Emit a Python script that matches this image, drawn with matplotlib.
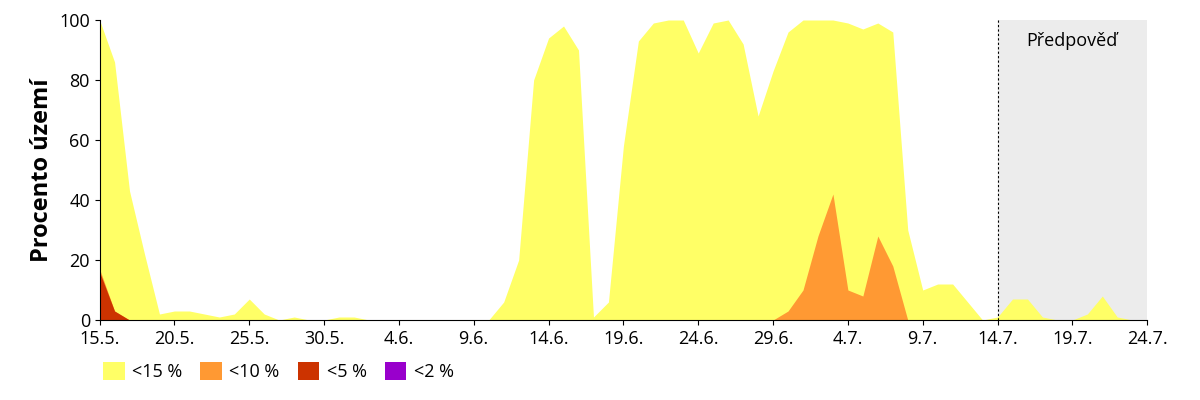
import numpy as np
import matplotlib.pyplot as plt

# denní hodnoty od 15.5. (index 0) do 24.7. (index 70)
yellow = [100, 86, 43, 22, 2, 3, 3, 2, 1, 2, 7, 2, 0, 1, 0, 0, 1, 1, 0, 0,
          0, 0, 0, 0, 0, 0, 0, 6, 20, 80, 94, 98, 90, 1, 6, 58, 93, 99, 100, 100,
          89, 99, 100, 92, 68, 83, 96, 100, 100, 100, 99, 97, 99, 96, 30, 10, 12, 12, 6, 0,
          1, 7, 7, 1, 0, 0, 2, 8, 1, 0, 0]
orange = [17, 3] + [0] * 44 + [3, 10, 28, 42, 10, 8, 28, 18] + [0] * 17
red = [16, 3] + [0] * 69
purple = [0] * 71
tick_labels = ['15.5.', '20.5.', '25.5.', '30.5.', '4.6.', '9.6.', '14.6.', '19.6.',
               '24.6.', '29.6.', '4.7.', '9.7.', '14.7.', '19.7.', '24.7.']
forecast_start = 60
series = [('<15 %', yellow, '#ffff66'), ('<10 %', orange, '#ff9933'),
          ('<5 %', red, '#cc3300'), ('<2 %', purple, '#9900cc')]

plt.rcParams['font.family'] = ['Open Sans', 'DejaVu Sans']
fig, ax = plt.subplots(figsize=(12, 4), dpi=100)
x = np.arange(len(yellow))
ax.axvspan(forecast_start, 70, color='#ececec', zorder=0)
ax.axvline(forecast_start, color='black', ls=(0, (2, 2)), lw=0.8, zorder=3)
ax.text(65, 93, 'Předpověď', ha='center', va='center', fontsize=13)
for label, vals, col in series:
    ax.fill_between(x, 0, vals, color=col, lw=0, label=label, zorder=2)

ax.set_xlim(0, 70)
ax.set_ylim(0, 100)
ax.set_xticks(np.arange(0, 71, 5))
ax.set_xticklabels(tick_labels, fontsize=13)
ax.set_yticks(range(0, 101, 20))
ax.tick_params(axis='y', labelsize=13)
ax.set_ylabel('Procento území', fontsize=17, fontweight='bold', labelpad=4)
for s in ['top', 'right']:
    ax.spines[s].set_visible(False)
ax.legend(loc='upper left', bbox_to_anchor=(-0.012, -0.085), ncol=4, frameon=False,
          fontsize=13, handlelength=1.2, handleheight=1.2, columnspacing=1.0,
          handletextpad=0.4)
plt.subplots_adjust(left=0.083, right=0.956, top=0.95, bottom=0.2)
plt.savefig('out.png')
